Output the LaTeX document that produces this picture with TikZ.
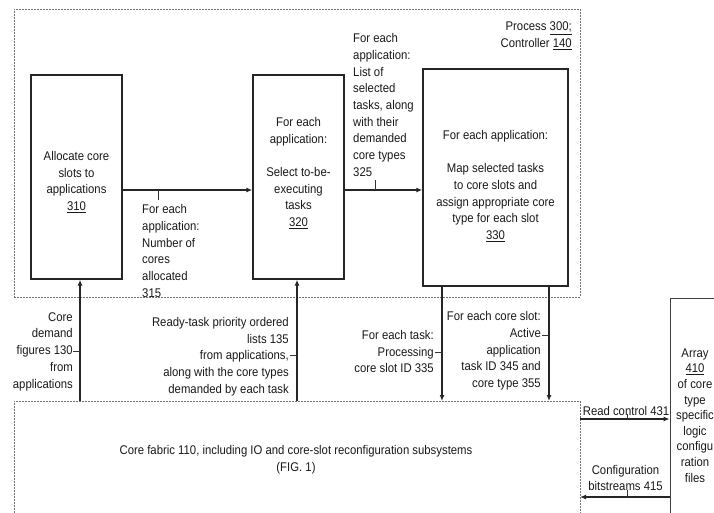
\documentclass[tikz,border=0pt]{standalone}
\usepackage{fontspec}
\setmainfont[FakeStretch=0.9]{Liberation Sans}
\usetikzlibrary{arrows.meta}
\begin{document}
\begin{tikzpicture}[x=1pt,y=-1pt,
  box/.style={draw=black!85, line width=1.4pt, inner sep=0pt},
  thinbox/.style={draw=black!75, line width=0.8pt, inner sep=0pt},
  dbox/.style={draw=black!55, line width=0.8pt, dash pattern=on 2pt off 1pt, inner sep=0pt},
  conn/.style={line width=1.3pt, draw=black!85, -{Latex[length=6pt,width=5pt]}},
  lbl/.style={font=\fontsize{12.6}{16.7}\selectfont, inner sep=0pt, text=black!90},
  tickline/.style={line width=0.6pt, draw=black!80}
]
\useasboundingbox (0,0) rectangle (714,512);
\clip (0,0) rectangle (714,512);
% containers
\node[dbox, minimum width=566pt, minimum height=288pt] (proc) at (297,153) {};
\node[dbox, minimum width=566pt, minimum height=150pt] (fab) at (297,476) {};
\node[thinbox, minimum width=52pt, minimum height=262pt] (a410) at (696,429) {};
% process boxes
\node[box, minimum width=91pt, minimum height=204pt] (b310) at (76.5,177) {};
\node[box, minimum width=91pt, minimum height=204pt] (b320) at (298.5,177) {};
\node[box, minimum width=145pt, minimum height=217pt] (b330) at (495.5,177.5) {};
% box texts
\node[lbl, align=center] (t310) at (76.5,182) {Allocate core\\slots to\\applications\\\underline{310}};
\node[lbl, align=center] (t320) at (298.5,173) {For each\\application:\\[16.7pt]Select to-be-\\executing\\tasks\\\underline{320}};
\node[lbl, align=center] (t330) at (495.5,186) {For each application:\\[16.7pt]Map selected tasks\\to core slots and\\assign appropriate core\\type for each slot\\\underline{330}};
\node[lbl, align=right, anchor=east] (tproc) at (572,36) {Process \underline{300;}\\Controller \underline{140}};
\node[lbl, align=center] (tfab) at (296,460) {Core fabric 110, including IO and core-slot reconfiguration subsystems\\(FIG. 1)};
\node[lbl, align=center, font=\fontsize{12.6}{15.6}\selectfont] (t410) at (695,415.5) {Array\\\underline{410}\\of core\\type\\specific\\logic\\configu\\ration\\files};
% main arrows
\draw[conn] ([yshift=-13pt]b310.east) -- ([yshift=-13pt]b320.west);
\draw[conn] ([yshift=-13pt]b320.east) -- ([yshift=-12.5pt]b330.west);
\coordinate (u1) at (80,401);
\coordinate (u2) at (297,401);
\draw[conn] (u1) -- (u1 |- b310.south);
\draw[conn] (u2) -- (u2 |- b320.south);
\coordinate (d1) at (442,401);
\coordinate (d2) at (549,401);
\draw[conn] (d1 |- b330.south) -- (d1);
\draw[conn] (d2 |- b330.south) -- (d2);
\coordinate (r1) at (580,419);
\coordinate (r2) at (580,497);
\draw[conn] (r1) -- (r1 -| a410.west);
\draw[conn] (r2 -| a410.west) -- (r2);
% connector labels
\node[lbl, align=left, anchor=west] (l315) at (142,251) {For each\\application:\\Number of\\cores\\allocated\\315};
\coordinate (k315a) at (158,190); \coordinate (k315b) at (158,200);
\draw[tickline] (k315a) -- (k315b);
\node[lbl, align=left, anchor=west] (l325) at (353,105) {For each\\application:\\List of\\selected\\tasks, along\\with their\\demanded\\core types\\325};
\coordinate (k325a) at (375,190); \coordinate (k325b) at (375,180);
\draw[tickline] (k325a) -- (k325b);
\node[lbl, align=right, anchor=east] (l130) at (73,351.5) {Core\\demand\\figures 130\\from\\applications};
\coordinate (k130a) at (73,351); \coordinate (k130b) at (80,351);
\draw[tickline] (k130a) -- (k130b);
\node[lbl, align=right, anchor=east] (l135) at (289,356.5) {Ready-task priority ordered\\lists 135\\from applications,\\along with the core types\\demanded by each task};
\coordinate (k135a) at (290,355); \coordinate (k135b) at (297,355);
\draw[tickline] (k135a) -- (k135b);
\node[lbl, align=right, anchor=east] (l335) at (434,351.5) {For each task:\\Processing\\core slot ID 335};
\coordinate (k335a) at (435,352); \coordinate (k335b) at (442,352);
\draw[tickline] (k335a) -- (k335b);
\node[lbl, align=right, anchor=east] (l345) at (541,351) {For each core slot:\\Active\\application\\task ID 345 and\\core type 355};
\coordinate (k345a) at (542,335); \coordinate (k345b) at (549,335);
\draw[tickline] (k345a) -- (k345b);
\node[lbl] (l431) at (626,411) {Read control 431};
\coordinate (k431a) at (627,414); \coordinate (k431b) at (627,419);
\draw[tickline] (k431a) -- (k431b);
\node[lbl, align=center, font=\fontsize{12.6}{16}\selectfont] (l415) at (625.5,478) {Configuration\\bitstreams 415};
\coordinate (k415a) at (627,490); \coordinate (k415b) at (627,497);
\draw[tickline] (k415a) -- (k415b);
\end{tikzpicture}
\end{document}
